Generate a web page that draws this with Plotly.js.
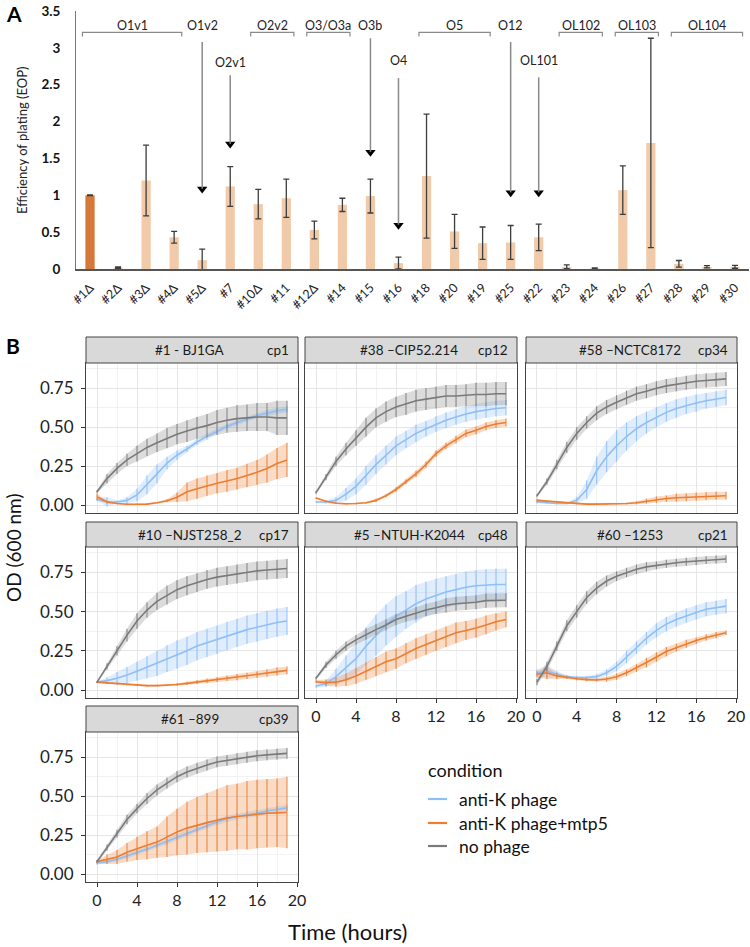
<!DOCTYPE html>
<html><head><meta charset="utf-8">
<script src="https://cdn.plot.ly/plotly-3.0.1.min.js"></script>
<style>body{margin:0;background:#fff}#chart{width:750px;height:947px}</style>
</head><body><div id="chart"></div>
<script>
// ---------- Panel A data ----------
const categories = ["#1Δ","#2Δ","#3Δ","#4Δ","#5Δ","#7","#10Δ","#11","#12Δ","#14","#15","#16","#18","#20","#19","#25","#22","#23","#24","#26","#27","#28","#29","#30"];
const eop    = [1.00,0.02,1.20,0.43,0.12,1.12,0.88,0.96,0.53,0.87,0.99,0.08,1.26,0.51,0.35,0.36,0.43,0.03,0.01,1.07,1.71,0.07,0.03,0.03];
const eopErr = [0.005,0.01,0.48,0.08,0.15,0.27,0.20,0.26,0.12,0.09,0.23,0.08,0.84,0.23,0.22,0.23,0.18,0.025,0.005,0.33,1.42,0.045,0.015,0.02];
const referenceIndex = 0;
const groupLabels = ["O1v1","O2v2","O3/O3a","O5","OL102","OL103","OL104"];
const groupStart  = [0,6,8,12,17,19,21];
const groupEnd    = [3,7,9,14,18,20,23];
const arrowLabels = ["O1v2","O2v1","O3b","O4","O12","OL101"];
const arrowCat    = [4,5,10,11,15,16];
const arrowTop    = [3.08,2.63,3.13,2.59,3.08,2.60];
const arrowTip    = [1.03,1.64,1.53,0.54,0.98,0.98];
const arrowLabelY = [3.31,2.80,3.31,2.83,3.31,2.83];
const yTicksA = [0,0.5,1,1.5,2,2.5,3,3.5];

// ---------- Panel B data ----------
const hours = [0,1,2,3,4,5,6,7,8,9,10,11,12,13,14,15,16,17,18,19];
const panelNames = ["#1 - BJ1GA","#38 \u2013CIP52.214","#58 \u2013NCTC8172","#10 \u2013NJST258_2","#5 \u2013NTUH-K2044","#60 \u20131253","#61 \u2013899"];
const panelCp = ["cp1","cp12","cp34","cp17","cp48","cp21","cp39"];
const conditions = ["anti-K phage","anti-K phage+mtp5","no phage"];
const odTicks = [0,0.25,0.5,0.75];
const timeTicks = [0,4,8,12,16,20];

const p1Blue = [0.036,0.02,0.02,0.03,0.065,0.13,0.20,0.27,0.32,0.36,0.405,0.44,0.475,0.505,0.53,0.555,0.575,0.59,0.605,0.615];
const p1BlueErr = [0.01,0.03,0.01,0.02,0.04,0.06,0.06,0.04,0.03,0.02,0.02,0.02,0.015,0.015,0.015,0.015,0.015,0.02,0.02,0.02];
const p1Orange = [0.053,0.02,0.01,0.005,0.005,0.006,0.015,0.028,0.05,0.085,0.105,0.125,0.14,0.155,0.17,0.19,0.21,0.235,0.267,0.29];
const p1OrangeErr = [0.02,0.01,0.005,0.005,0.005,0.005,0.005,0.01,0.03,0.06,0.065,0.065,0.065,0.07,0.07,0.075,0.08,0.09,0.1,0.11];
const p1Gray = [0.085,0.17,0.235,0.29,0.33,0.37,0.40,0.43,0.455,0.475,0.495,0.51,0.53,0.545,0.555,0.56,0.565,0.565,0.56,0.56];
const p1GrayErr = [0.01,0.03,0.035,0.04,0.05,0.055,0.06,0.065,0.065,0.07,0.07,0.075,0.08,0.08,0.085,0.085,0.09,0.09,0.11,0.11];

const p2Blue = [0.02,0.02,0.03,0.07,0.12,0.19,0.26,0.32,0.38,0.42,0.46,0.49,0.52,0.545,0.565,0.585,0.60,0.61,0.62,0.625];
const p2BlueErr = [0.005,0.01,0.02,0.04,0.05,0.06,0.06,0.06,0.06,0.055,0.055,0.05,0.05,0.05,0.05,0.05,0.05,0.05,0.05,0.05];
const p2Orange = [0.045,0.025,0.012,0.008,0.01,0.015,0.03,0.06,0.1,0.15,0.2,0.26,0.33,0.38,0.42,0.46,0.48,0.505,0.52,0.53];
const p2OrangeErr = [0.005,0.005,0.005,0.005,0.005,0.005,0.01,0.01,0.015,0.015,0.02,0.02,0.02,0.02,0.025,0.025,0.025,0.025,0.025,0.025];
const p2Gray = [0.08,0.18,0.28,0.36,0.43,0.5,0.56,0.6,0.63,0.65,0.67,0.68,0.69,0.70,0.70,0.705,0.71,0.71,0.715,0.715];
const p2GrayErr = [0.01,0.02,0.03,0.04,0.05,0.06,0.06,0.065,0.065,0.07,0.07,0.07,0.07,0.07,0.07,0.07,0.075,0.075,0.075,0.075];

const p3Blue = [0.02,0.015,0.01,0.01,0.03,0.1,0.22,0.31,0.38,0.44,0.49,0.53,0.565,0.595,0.62,0.64,0.655,0.67,0.68,0.69];
const p3BlueErr = [0.01,0.005,0.005,0.005,0.02,0.06,0.09,0.1,0.1,0.09,0.08,0.07,0.065,0.06,0.06,0.055,0.055,0.05,0.05,0.05];
const p3Orange = [0.03,0.025,0.02,0.012,0.008,0.006,0.006,0.006,0.008,0.01,0.015,0.025,0.035,0.042,0.047,0.05,0.055,0.057,0.06,0.06];
const p3OrangeErr = [0.01,0.005,0.005,0.005,0.005,0.005,0.005,0.005,0.005,0.005,0.01,0.015,0.02,0.02,0.025,0.025,0.025,0.025,0.025,0.025];
const p3Gray = [0.06,0.15,0.26,0.37,0.46,0.53,0.59,0.63,0.66,0.69,0.715,0.73,0.75,0.765,0.775,0.785,0.795,0.80,0.805,0.81];
const p3GrayErr = [0.01,0.02,0.03,0.035,0.04,0.04,0.045,0.045,0.045,0.045,0.045,0.045,0.045,0.045,0.045,0.045,0.045,0.045,0.045,0.045];

const p4Blue = [0.05,0.06,0.075,0.095,0.12,0.145,0.17,0.2,0.225,0.25,0.28,0.3,0.32,0.345,0.365,0.385,0.40,0.415,0.43,0.44];
const p4BlueErr = [0.005,0.02,0.04,0.05,0.06,0.07,0.08,0.085,0.09,0.09,0.09,0.09,0.09,0.09,0.09,0.09,0.09,0.09,0.09,0.09];
const p4Orange = [0.05,0.045,0.04,0.035,0.03,0.028,0.028,0.03,0.035,0.042,0.05,0.058,0.066,0.075,0.082,0.09,0.098,0.108,0.118,0.125];
const p4OrangeErr = [0.005,0.005,0.005,0.005,0.005,0.005,0.005,0.005,0.008,0.01,0.012,0.015,0.015,0.018,0.02,0.02,0.02,0.022,0.025,0.025];
const p4Gray = [0.05,0.15,0.25,0.35,0.44,0.51,0.565,0.605,0.64,0.665,0.685,0.705,0.72,0.73,0.74,0.75,0.76,0.765,0.77,0.775];
const p4GrayErr = [0.005,0.02,0.03,0.04,0.05,0.05,0.055,0.06,0.06,0.06,0.06,0.06,0.06,0.06,0.06,0.06,0.06,0.06,0.06,0.06];

const p5Blue = [0.025,0.04,0.085,0.14,0.2,0.28,0.35,0.415,0.47,0.51,0.55,0.58,0.60,0.625,0.64,0.655,0.665,0.67,0.673,0.673];
const p5BlueErr = [0.01,0.02,0.05,0.08,0.1,0.12,0.13,0.13,0.13,0.12,0.12,0.11,0.11,0.1,0.1,0.1,0.1,0.1,0.1,0.1];
const p5Orange = [0.053,0.047,0.05,0.065,0.09,0.12,0.15,0.18,0.2,0.235,0.265,0.29,0.315,0.34,0.365,0.38,0.395,0.415,0.435,0.45];
const p5OrangeErr = [0.01,0.02,0.03,0.04,0.05,0.055,0.06,0.065,0.065,0.065,0.065,0.065,0.065,0.065,0.065,0.06,0.06,0.06,0.055,0.05];
const p5Gray = [0.075,0.16,0.225,0.28,0.32,0.355,0.385,0.415,0.45,0.47,0.49,0.51,0.525,0.54,0.55,0.555,0.56,0.57,0.572,0.572];
const p5GrayErr = [0.01,0.02,0.025,0.03,0.03,0.035,0.035,0.035,0.035,0.035,0.04,0.04,0.04,0.045,0.045,0.045,0.045,0.045,0.045,0.045];

const p6Blue = [0.11,0.12,0.1,0.085,0.08,0.08,0.085,0.11,0.15,0.21,0.27,0.33,0.38,0.42,0.45,0.475,0.495,0.515,0.525,0.535];
const p6BlueErr = [0.02,0.04,0.02,0.01,0.01,0.01,0.015,0.02,0.03,0.04,0.04,0.04,0.045,0.045,0.045,0.045,0.045,0.045,0.045,0.045];
const p6Orange = [0.1,0.11,0.09,0.08,0.072,0.066,0.064,0.07,0.085,0.11,0.14,0.175,0.21,0.245,0.27,0.295,0.315,0.335,0.35,0.365];
const p6OrangeErr = [0.02,0.04,0.02,0.01,0.01,0.01,0.01,0.015,0.02,0.02,0.025,0.03,0.03,0.03,0.025,0.025,0.02,0.02,0.02,0.015];
const p6Gray = [0.05,0.15,0.28,0.41,0.5,0.59,0.65,0.695,0.725,0.75,0.77,0.785,0.795,0.805,0.812,0.818,0.823,0.828,0.832,0.835];
const p6GrayErr = [0.02,0.03,0.03,0.035,0.04,0.04,0.04,0.035,0.03,0.03,0.03,0.03,0.025,0.025,0.025,0.025,0.025,0.025,0.025,0.025];

const p7Blue = [0.07,0.08,0.095,0.115,0.14,0.16,0.185,0.21,0.24,0.265,0.29,0.315,0.335,0.355,0.37,0.38,0.39,0.405,0.415,0.425];
const p7BlueErr = [0.01,0.01,0.015,0.015,0.015,0.015,0.015,0.02,0.02,0.02,0.02,0.02,0.02,0.02,0.02,0.02,0.02,0.02,0.02,0.02];
const p7Orange = [0.08,0.095,0.11,0.14,0.165,0.185,0.205,0.24,0.27,0.295,0.315,0.33,0.345,0.36,0.37,0.378,0.385,0.39,0.393,0.395];
const p7OrangeErr = [0.01,0.03,0.045,0.06,0.075,0.09,0.1,0.13,0.15,0.17,0.18,0.19,0.2,0.21,0.21,0.22,0.22,0.22,0.22,0.23];
const p7Gray = [0.08,0.17,0.26,0.35,0.42,0.485,0.54,0.585,0.625,0.655,0.68,0.70,0.72,0.73,0.74,0.75,0.76,0.765,0.77,0.775];
const p7GrayErr = [0.01,0.02,0.025,0.03,0.03,0.035,0.035,0.035,0.035,0.035,0.035,0.035,0.035,0.035,0.035,0.035,0.035,0.035,0.035,0.035];

// ---------- assembly ----------
const W = 750, H = 947;
const px = v => v / W;
const py = v => 1 - v / H;
const FONT = "Lato, 'Open Sans', sans-serif";

const panelSeries = [
  [[p1Blue,p1BlueErr],[p1Orange,p1OrangeErr],[p1Gray,p1GrayErr]],
  [[p2Blue,p2BlueErr],[p2Orange,p2OrangeErr],[p2Gray,p2GrayErr]],
  [[p3Blue,p3BlueErr],[p3Orange,p3OrangeErr],[p3Gray,p3GrayErr]],
  [[p4Blue,p4BlueErr],[p4Orange,p4OrangeErr],[p4Gray,p4GrayErr]],
  [[p5Blue,p5BlueErr],[p5Orange,p5OrangeErr],[p5Gray,p5GrayErr]],
  [[p6Blue,p6BlueErr],[p6Orange,p6OrangeErr],[p6Gray,p6GrayErr]],
  [[p7Blue,p7BlueErr],[p7Orange,p7OrangeErr],[p7Gray,p7GrayErr]]
];
const condColor = ["#8fbff7","#ed7d31","#7a7a7a"];
const condBand  = ["rgba(143,191,247,0.28)","rgba(237,125,49,0.28)","rgba(128,128,128,0.28)"];
const condErr   = ["rgba(143,191,247,0.9)","rgba(237,125,49,0.9)","rgba(128,128,128,0.9)"];

const idx = categories.map((_, i) => i);
const data = [];
const shapes = [];
const annotations = [];
const ann = o => annotations.push(Object.assign({ xref: "paper", yref: "paper", showarrow: false, xanchor: "center", yanchor: "middle" }, o));

// Panel A bars
data.push({
  type: "bar", x: idx, y: eop, width: 0.33, xaxis: "x", yaxis: "y",
  marker: { color: idx.map(i => i === referenceIndex ? "#d4793a" : "#f1cba9"), line: { width: 0 } },
  error_y: { type: "data", array: eopErr, visible: true, color: "#3d3d3d", thickness: 1.3, width: 3 },
  hoverinfo: "skip"
});
data.push({
  type: "scatter", mode: "markers", x: arrowCat, y: arrowTip.map(v => v + 0.055),
  xaxis: "x", yaxis: "y", hoverinfo: "skip",
  marker: { symbol: "triangle-down", size: 9, color: "#000" }
});
arrowCat.forEach((c, i) => {
  shapes.push({ type: "line", xref: "x", yref: "y", x0: c, x1: c, y0: arrowTop[i], y1: arrowTip[i] + 0.06,
    line: { color: "#8a8a8a", width: 1.5 } });
  ann({ xref: "x", yref: "y", x: c, y: arrowLabelY[i], text: arrowLabels[i],
    font: { family: FONT, size: 12.5, color: "#222" } });
});
groupLabels.forEach((g, i) => {
  const a = groupStart[i] - 0.27, b = groupEnd[i] + 0.27;
  shapes.push({ type: "path", xref: "x", yref: "y",
    path: `M ${a},3.155 L ${a},3.21 L ${b},3.21 L ${b},3.155`,
    line: { color: "#8a8a8a", width: 1.2 } });
  ann({ xref: "x", yref: "y", x: (groupStart[i] + groupEnd[i]) / 2, y: 3.31, text: g,
    font: { family: FONT, size: 12.5, color: "#222" } });
});

const layout = {
  width: W, height: H, margin: { l: 0, r: 0, t: 0, b: 0 },
  paper_bgcolor: "#fff", plot_bgcolor: "#fff", showlegend: false,
  font: { family: FONT, color: "#222" },
  xaxis: {
    domain: [px(76), px(749)], range: [-0.5, 23.5], tickmode: "array", tickvals: idx, ticktext: categories,
    tickangle: -45, tickfont: { family: FONT, size: 12.5, color: "#222" }, showgrid: false, zeroline: false,
    showline: true, linecolor: "#555", linewidth: 1.5, ticks: "outside", ticklen: 5, tickcolor: "rgba(0,0,0,0)",
    anchor: "y", fixedrange: true
  },
  yaxis: {
    domain: [py(269), py(11)], range: [0, 3.5], tickmode: "array", tickvals: yTicksA,
    ticktext: yTicksA.map(v => "<b>" + v + "</b>"),
    tickfont: { family: FONT, size: 13.5, color: "#111" }, showgrid: false, zeroline: false,
    showline: true, linecolor: "#777", linewidth: 1, ticks: "outside", ticklen: 12, tickcolor: "rgba(0,0,0,0)",
    anchor: "x", fixedrange: true
  }
};
ann({ x: px(22), y: py(140), text: "Efficiency of plating (EOP)", textangle: -90,
  font: { family: FONT, size: 13, color: "#222" } });
ann({ x: px(4), y: py(13), xanchor: "left", text: "<b>A</b>", font: { family: FONT, size: 21, color: "#000" } });
ann({ x: px(4), y: py(345), xanchor: "left", text: "<b>B</b>", font: { family: FONT, size: 21, color: "#000" } });

// Panel B facets
const colLeft = [86, 305, 526], colRight = [298, 517, 737];
const rowStripTop = [337, 522, 706], rowPlotTop = [363, 547, 732], rowPlotBottom = [513, 698, 882];
const showXTicks = [false, false, false, false, true, true, true];

panelSeries.forEach((series, k) => {
  const r = Math.floor(k / 3), c = k % 3;
  const n = k + 2;
  const xa = "x" + n, ya = "y" + n;
  layout["xaxis" + n] = {
    domain: [px(colLeft[c]), px(colRight[c])], range: [-1.1, 20.1], anchor: ya,
    tickmode: "array", tickvals: timeTicks, ticktext: timeTicks.map(String),
    showticklabels: showXTicks[k], ticks: showXTicks[k] ? "outside" : "", ticklen: 4, tickcolor: "#333",
    tickfont: { family: FONT, size: 16, color: "#222" },
    showgrid: true, gridcolor: "#e6e6e6", gridwidth: 1, zeroline: false,
    minor: { tick0: 2, dtick: 4, showgrid: true, gridcolor: "#f2f2f2", gridwidth: 1 },
    showline: true, mirror: true, linecolor: "#444", linewidth: 1, fixedrange: true
  };
  layout["yaxis" + n] = {
    domain: [py(rowPlotBottom[r]), py(rowPlotTop[r])], range: [-0.051, 0.912], anchor: xa,
    tickmode: "array", tickvals: odTicks, ticktext: odTicks.map(v => v.toFixed(2)),
    showticklabels: c === 0, ticks: c === 0 ? "outside" : "", ticklen: 4, tickcolor: "#333",
    ticklabelstandoff: 4,
    tickfont: { family: FONT, size: 17, color: "#222" },
    showgrid: true, gridcolor: "#e6e6e6", gridwidth: 1, zeroline: false,
    minor: { tick0: 0.125, dtick: 0.25, showgrid: true, gridcolor: "#f2f2f2", gridwidth: 1 },
    showline: true, mirror: true, linecolor: "#444", linewidth: 1, fixedrange: true
  };
  series.forEach(([v, e], s) => {
    data.push({ type: "scatter", mode: "lines", x: hours, y: v.map((a, i) => a - e[i]), xaxis: xa, yaxis: ya,
      line: { width: 0, color: condBand[s] }, hoverinfo: "skip" });
    data.push({ type: "scatter", mode: "lines", x: hours, y: v.map((a, i) => a + e[i]), xaxis: xa, yaxis: ya,
      line: { width: 0, color: condBand[s] }, fill: "tonexty", fillcolor: condBand[s], hoverinfo: "skip" });
  });
  series.forEach(([v, e], s) => {
    data.push({ type: "scatter", mode: "lines", name: conditions[s], x: hours, y: v, xaxis: xa, yaxis: ya,
      line: { width: 1.6, color: condColor[s] },
      error_y: { type: "data", array: e, visible: true, width: 0, thickness: 1.1, color: condErr[s] },
      hoverinfo: "skip" });
  });
  shapes.push({ type: "rect", xref: "paper", yref: "paper", x0: px(colLeft[c]), x1: px(colRight[c]),
    y0: py(rowPlotTop[r]), y1: py(rowStripTop[r]), fillcolor: "#d9d9d9", line: { color: "#444", width: 1 }, layer: "above" });
  const stripMid = py((rowPlotTop[r] + rowStripTop[r]) / 2);
  ann({ x: px((colLeft[c] + colRight[c]) / 2 - 2), y: stripMid, text: panelNames[k],
    font: { family: FONT, size: 13.5, color: "#1a1a1a" } });
  ann({ x: px(colRight[c] - 7), y: stripMid, xanchor: "right", text: panelCp[k],
    font: { family: FONT, size: 13.5, color: "#1a1a1a" } });
});

ann({ x: px(13), y: py(548), text: "OD (600 nm)", textangle: -90, font: { family: FONT, size: 19, color: "#111" } });
ann({ x: px(347), y: py(931), text: "Time (hours)", font: { family: FONT, size: 22, color: "#111" } });

// legend (drawn manually)
ann({ x: px(426), y: py(770), xanchor: "left", text: "condition", font: { family: FONT, size: 18, color: "#111" } });
const legendY = [799, 823, 846];
conditions.forEach((name, s) => {
  shapes.push({ type: "line", xref: "paper", yref: "paper", x0: px(428), x1: px(447), y0: py(legendY[s]), y1: py(legendY[s]),
    line: { color: condColor[s], width: 2.2 } });
  ann({ x: px(457), y: py(legendY[s]), xanchor: "left", text: name, font: { family: FONT, size: 17.5, color: "#111" } });
});

layout.shapes = shapes;
layout.annotations = annotations;
Plotly.newPlot("chart", data, layout, { staticPlot: true, displayModeBar: false });
</script>
</body></html>
